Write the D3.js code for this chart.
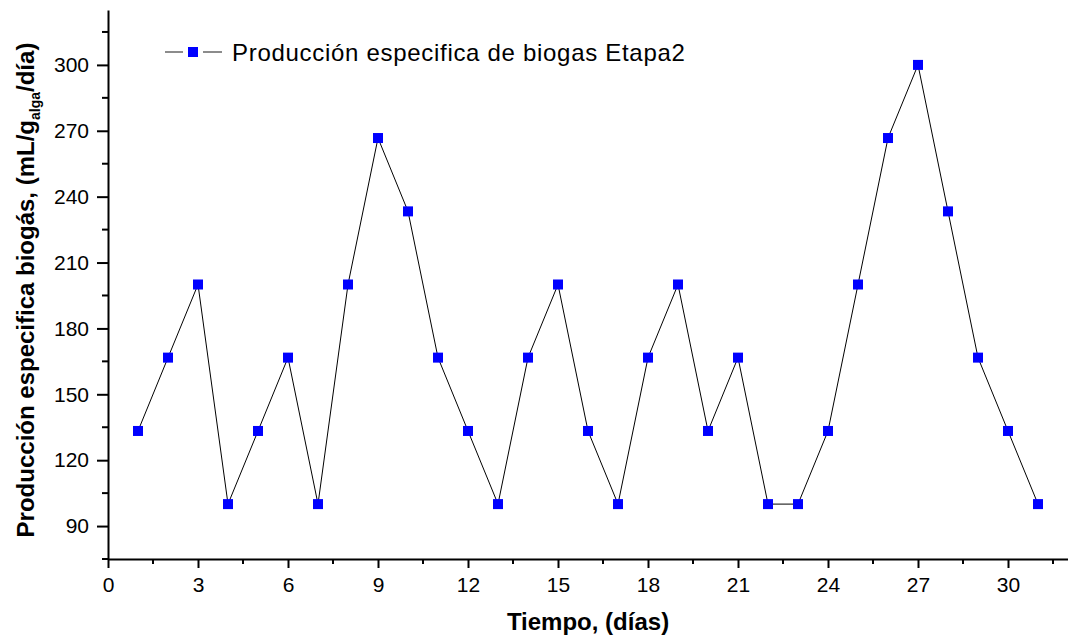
<!DOCTYPE html>
<html>
<head>
<meta charset="utf-8">
<script src="https://cdn.jsdelivr.net/npm/d3@7"></script>
<style>
  body { margin: 0; background: #fff; }
  text { font-family: "Liberation Sans", Arial, sans-serif; }
</style>
</head>
<body>
<script>
// data
var days = [1,2,3,4,5,6,7,8,9,10,11,12,13,14,15,16,17,18,19,20,21,22,23,24,25,26,27,28,29,30,31]
var biogas = [133.3,166.7,200,100,133.3,166.7,100,200,266.7,233.3,166.7,133.3,100,166.7,200,133.3,100,166.7,200,133.3,166.7,100,100,133.3,200,266.7,300,233.3,166.7,133.3,100]
var xTicks = [0,3,6,9,12,15,18,21,24,27,30]
var yTicks = [90,120,150,180,210,240,270,300]
var seriesName = "Producción especifica de biogas Etapa2"

var width = 1068
var height = 639

var svg = d3.select("body")
  .append("svg")
    .attr("width", width)
    .attr("height", height)

var x = d3.scaleLinear().domain([0, 32]).range([108, 1068])
var y = d3.scaleLinear().domain([75, 325]).range([559, 10])

// minor ticks
var xMinor = d3.range(0, 32.1, 1.5).filter(function(v){ return xTicks.indexOf(v) < 0 })
var yMinor = d3.range(75, 325, 15).filter(function(v){ return yTicks.indexOf(v) < 0 })

var xAxis = svg.append("g")
  .attr("transform", "translate(0," + y(75) + ")")
  .call(d3.axisBottom(x).tickValues(xTicks).tickSize(9).tickPadding(9).tickSizeOuter(0))
xAxis.append("g").selectAll("line")
  .data(xMinor).enter().append("line")
    .attr("x1", function(d){ return x(d) }).attr("x2", function(d){ return x(d) })
    .attr("y1", 0).attr("y2", 5)
    .attr("stroke", "black").attr("stroke-width", 2)

var yAxis = svg.append("g")
  .attr("transform", "translate(" + x(0) + ",0)")
  .call(d3.axisLeft(y).tickValues(yTicks).tickSize(11).tickPadding(8).tickSizeOuter(0))
yAxis.append("g").selectAll("line")
  .data(yMinor).enter().append("line")
    .attr("y1", function(d){ return y(d) }).attr("y2", function(d){ return y(d) })
    .attr("x1", 0).attr("x2", -6)
    .attr("stroke", "black").attr("stroke-width", 2)

svg.selectAll(".domain").attr("stroke-width", 2)
svg.selectAll(".tick line").attr("stroke-width", 2)
svg.selectAll(".tick text")
  .style("font-size", "21px")
  .style("font-family", "'Liberation Sans', Arial, sans-serif")
  .attr("fill", "black")

// line + markers
var pts = days.map(function(d, i){ return {d: d, v: biogas[i]} })

svg.append("path")
  .datum(pts)
  .attr("fill", "none")
  .attr("stroke", "black")
  .attr("stroke-width", 1)
  .attr("d", d3.line().x(function(p){ return x(p.d) }).y(function(p){ return y(p.v) }))

svg.append("g").selectAll("rect")
  .data(pts).enter().append("rect")
    .attr("x", function(p){ return x(p.d) - 5 })
    .attr("y", function(p){ return y(p.v) - 5 })
    .attr("width", 10).attr("height", 10)
    .attr("fill", "#0000ff")

// legend (line is broken around the marker, like Origin does)
var lg = svg.append("g").attr("transform", "translate(165,52)")
lg.append("line").attr("x1", 0).attr("x2", 18).attr("y1", 0).attr("y2", 0)
  .attr("stroke", "#666").attr("stroke-width", 1.5)
lg.append("line").attr("x1", 38).attr("x2", 57).attr("y1", 0).attr("y2", 0)
  .attr("stroke", "#666").attr("stroke-width", 1.5)
lg.append("rect").attr("x", 23).attr("y", -5).attr("width", 10).attr("height", 10).attr("fill", "#0000ff")
lg.append("text").attr("x", 67).attr("y", 9)
  .style("font-size", "24px").style("letter-spacing", "0.7px")
  .text(seriesName)

// axis titles
svg.append("text")
  .attr("x", 588).attr("y", 630)
  .attr("text-anchor", "middle")
  .style("font-size", "24px").style("font-weight", "bold")
  .text("Tiempo, (días)")

var yl = svg.append("text")
  .attr("transform", "translate(34,290) rotate(-90)")
  .attr("text-anchor", "middle")
  .style("font-size", "24px").style("font-weight", "bold")
yl.append("tspan").text("Producción especifica biogás, (mL/g")
yl.append("tspan").attr("dy", 6).style("font-size", "14px").text("alga")
yl.append("tspan").attr("dy", -6).text("/día)")
</script>
</body>
</html>
